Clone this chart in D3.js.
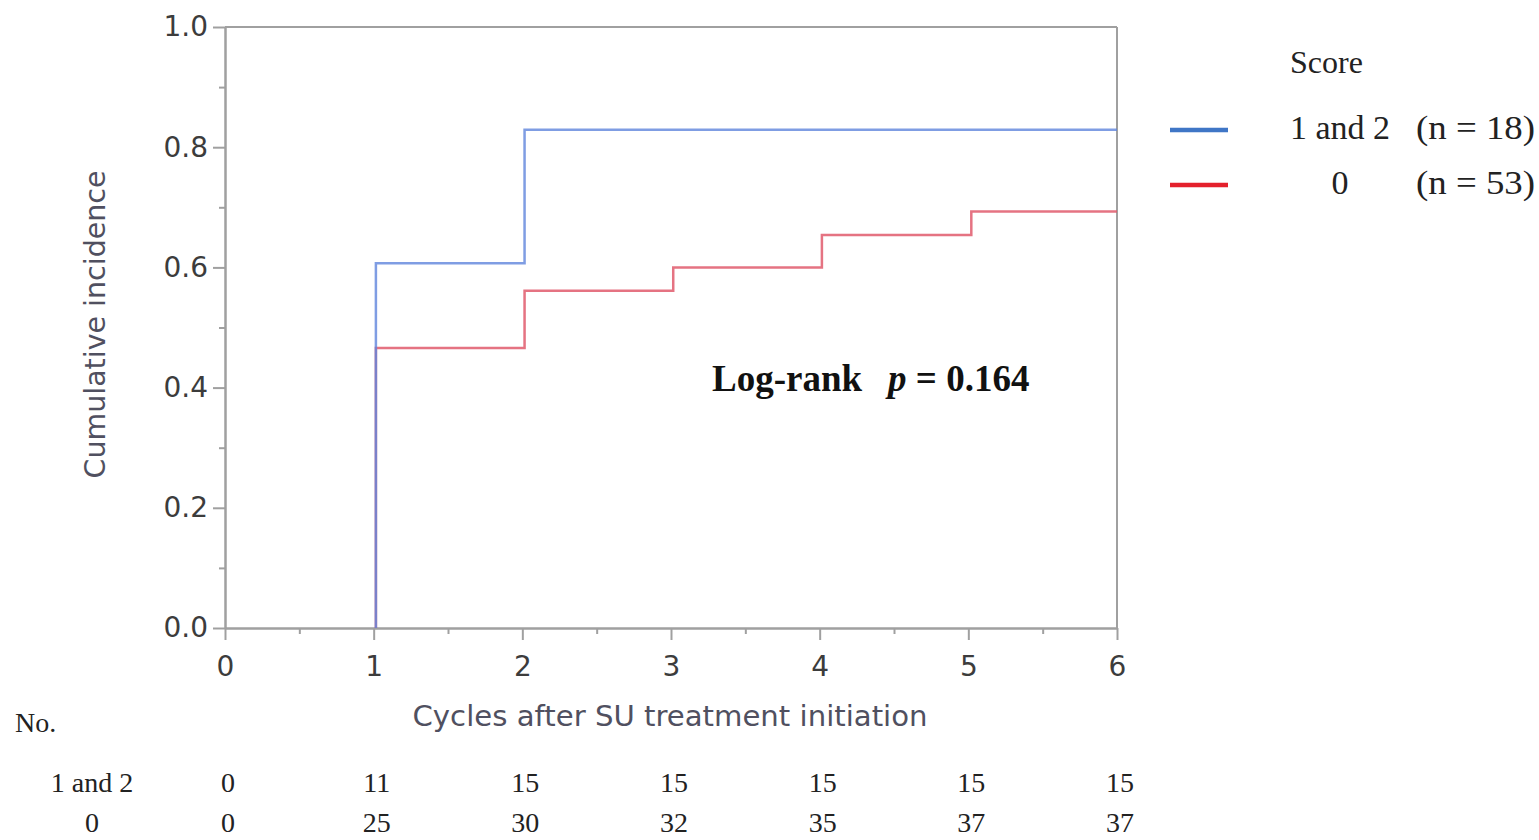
<!DOCTYPE html>
<html>
<head>
<meta charset="utf-8">
<script src="https://cdn.jsdelivr.net/npm/d3@7"></script>
<style>
  html, body { margin: 0; padding: 0; background: #fff; }
  svg { display: block; }
</style>
</head>
<body>
<svg id="chart" width="1539" height="840"></svg>
<script>
// ---- data ----
const xTicks = [0, 1, 2, 3, 4, 5, 6];
const yTicks = [0, 0.2, 0.4, 0.6, 0.8, 1.0];
const groupNames = ["1 and 2", "0"];
const groupN = [18, 53];
const blueTimes = [1.015, 2.015];
const blueValues = [0.607, 0.829];
const redTimes = [1.015, 2.015, 3.015, 4.015, 5.02];
const redValues = [0.466, 0.561, 0.600, 0.654, 0.693];
const riskTimes = [0, 1, 2, 3, 4, 5, 6];
const risk12 = [0, 11, 15, 15, 15, 15, 15];
const risk0 = [0, 25, 30, 32, 35, 37, 37];
const pText = "0.164";

// ---- layout ----
const svg = d3.select("#chart");
const L = 225, R = 1117, T = 27, B = 628;
const x = d3.scaleLinear().domain([0, 6]).range([L, R]);
const y = d3.scaleLinear().domain([0, 1]).range([B, T]);
const axisColor = "#a0a0a0";
const sans = "DejaVu Sans, Verdana, sans-serif";
const serif = "Liberation Serif, Times New Roman, serif";
const blue = "#5f85dc";
const red = "#e05a6c";

// frame (top & right)
svg.append("line").attr("x1", L).attr("x2", R).attr("y1", T).attr("y2", T)
  .attr("stroke", axisColor).attr("stroke-width", 2);
svg.append("line").attr("x1", R).attr("x2", R).attr("y1", T).attr("y2", B)
  .attr("stroke", axisColor).attr("stroke-width", 2);

// x axis
const xAxis = d3.axisBottom(x).tickValues(xTicks).tickSize(12).tickSizeOuter(0).tickPadding(16)
  .tickFormat(d3.format("d"));
const gx = svg.append("g").attr("transform", `translate(0,${B})`).call(xAxis);
const xMinor = d3.axisBottom(x).tickValues(d3.range(0.5, 6, 1)).tickSize(6).tickFormat("").tickSizeOuter(0);
const gxm = svg.append("g").attr("transform", `translate(0,${B})`).call(xMinor);

// y axis
const yAxis = d3.axisLeft(y).tickValues(yTicks).tickSize(12).tickSizeOuter(0).tickPadding(5)
  .tickFormat(d3.format(".1f"));
const gy = svg.append("g").attr("transform", `translate(${L},0)`).call(yAxis);
const yMinor = d3.axisLeft(y).tickValues(d3.range(0.1, 1, 0.2)).tickSize(6).tickFormat("").tickSizeOuter(0);
const gym = svg.append("g").attr("transform", `translate(${L},0)`).call(yMinor);

[gx, gxm, gy, gym].forEach(g => {
  g.selectAll("path.domain").attr("stroke", axisColor).attr("stroke-width", 2);
  g.selectAll(".tick line").attr("stroke", axisColor).attr("stroke-width", 2);
  g.selectAll(".tick text").attr("fill", "#3c3c3c").style("font-family", sans).style("font-size", "28px");
});

// axis titles
svg.append("text").attr("x", 670).attr("y", 726).attr("text-anchor", "middle")
  .style("font-family", sans).style("font-size", "28px").attr("fill", "#505060")
  .attr("textLength", 515).attr("lengthAdjust", "spacingAndGlyphs")
  .text("Cycles after SU treatment initiation");
svg.append("text").attr("transform", `translate(105,${(T + B) / 2 - 3}) rotate(-90)`)
  .attr("text-anchor", "middle").style("font-family", sans).style("font-size", "28px")
  .attr("textLength", 308).attr("lengthAdjust", "spacingAndGlyphs")
  .attr("fill", "#505060").text("Cumulative incidence");

// step curves
function stepData(times, values) {
  const pts = [[times[0], 0]];
  times.forEach((t, i) => pts.push([t, values[i]]));
  pts.push([6, values[values.length - 1]]);
  return pts;
}
const line = d3.line().x(d => x(d[0])).y(d => y(d[1])).curve(d3.curveStepAfter);
svg.append("path").datum(stepData(redTimes, redValues)).attr("d", line)
  .attr("fill", "none").attr("stroke", red).attr("stroke-width", 2.5).attr("stroke-opacity", 0.85);
svg.append("path").datum(stepData(blueTimes, blueValues)).attr("d", line)
  .attr("fill", "none").attr("stroke", blue).attr("stroke-width", 2.5).attr("stroke-opacity", 0.8);

// log-rank annotation
const lr = svg.append("text").attr("x", 712).attr("y", 391)
  .style("font-family", serif).style("font-size", "37px").style("font-weight", "bold").attr("fill", "#111");
lr.append("tspan").text("Log-rank");
lr.append("tspan").attr("dx", 26).style("font-style", "italic").text("p");
lr.append("tspan").text(" = " + pText);

// legend
svg.append("text").attr("x", 1290).attr("y", 73).style("font-family", serif).style("font-size", "32px")
  .attr("fill", "#222").text("Score");
const legColors = ["#3f76c6", "#e4202c"];
const legY = [130, 185];
groupNames.forEach((g, i) => {
  svg.append("line").attr("x1", 1170).attr("x2", 1228).attr("y1", legY[i]).attr("y2", legY[i])
    .attr("stroke", legColors[i]).attr("stroke-width", 4.5);
  svg.append("text").attr("x", i === 0 ? 1290 : 1340).attr("y", legY[i] + 9)
    .attr("text-anchor", i === 0 ? "start" : "middle")
    .style("font-family", serif).style("font-size", "34px").attr("fill", "#222").text(g);
  svg.append("text").attr("x", 1535).attr("y", legY[i] + 9).attr("text-anchor", "end")
    .style("font-family", serif).style("font-size", "34px").attr("fill", "#222")
    .attr("textLength", 119).attr("lengthAdjust", "spacingAndGlyphs")
    .text(`(n = ${groupN[i]})`);
});

// number at risk table
svg.append("text").attr("x", 15).attr("y", 732).style("font-family", serif).style("font-size", "28px")
  .attr("fill", "#222").text("No.");
const riskRows = [risk12, risk0];
const riskY = [792, 832];
riskRows.forEach((row, r) => {
  svg.append("text").attr("x", 92).attr("y", riskY[r]).attr("text-anchor", "middle")
    .style("font-family", serif).style("font-size", "28px").attr("fill", "#222").text(groupNames[r]);
  svg.selectAll(null).data(riskTimes).enter().append("text")
    .attr("x", (d) => x(d) + 3).attr("y", riskY[r]).attr("text-anchor", "middle")
    .style("font-family", serif).style("font-size", "28px").attr("fill", "#222")
    .text((d, i) => row[i]);
});
</script>
</body>
</html>
